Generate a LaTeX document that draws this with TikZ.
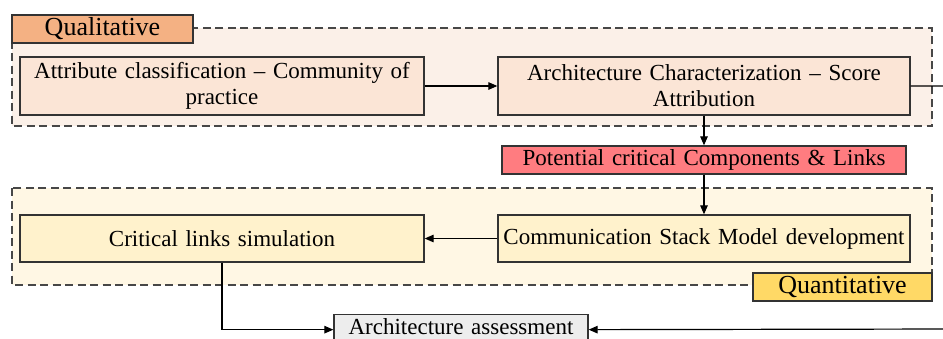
\documentclass[tikz,border=0pt]{standalone}
\usepackage{fontspec}
\setmainfont{Liberation Serif}
\usetikzlibrary{arrows.meta}
\definecolor{qualframe}{HTML}{FBF0E8}
\definecolor{qualbox}{HTML}{FBE5D6}
\definecolor{quallabel}{HTML}{F4B183}
\definecolor{potcol}{HTML}{FF7C80}
\definecolor{quantframe}{HTML}{FFF7E4}
\definecolor{quantbox}{HTML}{FFF2CC}
\definecolor{quantlabel}{HTML}{FFD966}
\definecolor{assesscol}{HTML}{EDEDED}
\definecolor{edgecol}{HTML}{333333}
\tikzset{
  frame/.style={draw=edgecol!90, line width=1.3pt, dash pattern=on 8pt off 4.5pt},
  box/.style={draw=edgecol, line width=1.3pt, inner sep=0pt, align=center,
    font=\fontsize{23}{26}\selectfont},
  tag/.style={draw=edgecol, line width=1.3pt, inner sep=0pt,
    font=\fontsize{26}{28}\selectfont},
  conn/.style={draw=black, line width=1.2pt, -{Triangle[length=9pt,width=7.5pt]}},
}
\begin{document}
\begin{tikzpicture}[x=1pt,y=-1pt]
\useasboundingbox (0,0) rectangle (943,338);
\clip (0,0) rectangle (943,338);
% frames
\draw[frame, fill=qualframe] (12,28) rectangle (932,126);
\draw[frame, fill=quantframe] (12,188) rectangle (932,285);
% labels
\node[tag, fill=quallabel, minimum width=181pt, minimum height=28pt] (qual) at (102.5,29) {Qualitative};
\node[tag, fill=quantlabel, minimum width=179pt, minimum height=28pt] (quant) at (842.5,287) {Quantitative};
% boxes
\node[box, fill=qualbox, text width=404pt, minimum height=58pt] (attr) at (222,86)
  {Attribute classification -- Community of\\practice};
\node[box, fill=qualbox, text width=412pt, minimum height=58pt] (arch) at (704,86)
  {Architecture Characterization -- Score\\Attribution};
\node[box, fill=potcol, text width=404pt, minimum height=28pt] (pot) at (704,160)
  {Potential critical Components \& Links};
\node[box, fill=quantbox, text width=412pt, minimum height=47pt] (csm) at (704,238.5)
  {Communication Stack Model development};
\node[box, fill=quantbox, text width=404pt, minimum height=47pt] (crit) at (222,238.5)
  {Critical links simulation};
\node[box, fill=assesscol, text width=254pt, text height=20pt, text depth=10pt,
  anchor=north] (assess) at (461,314)
  {Architecture assessment};
% connectors
\draw[conn] (attr.east) -- (arch.west);
\draw[conn] (arch.south) -- (pot.north);
\draw[conn] (pot.south) -- (csm.north);
\draw[conn] (csm.west) -- (crit.east);
\coordinate (r1) at (955,86);
\coordinate (r2) at (955,329);
\draw[conn] (arch.east) -- (r1) -- (r2) -- (assess.east);
\draw[conn] (crit.south) -- (crit.south |- assess.west) -- (assess.west);
\end{tikzpicture}
\end{document}
